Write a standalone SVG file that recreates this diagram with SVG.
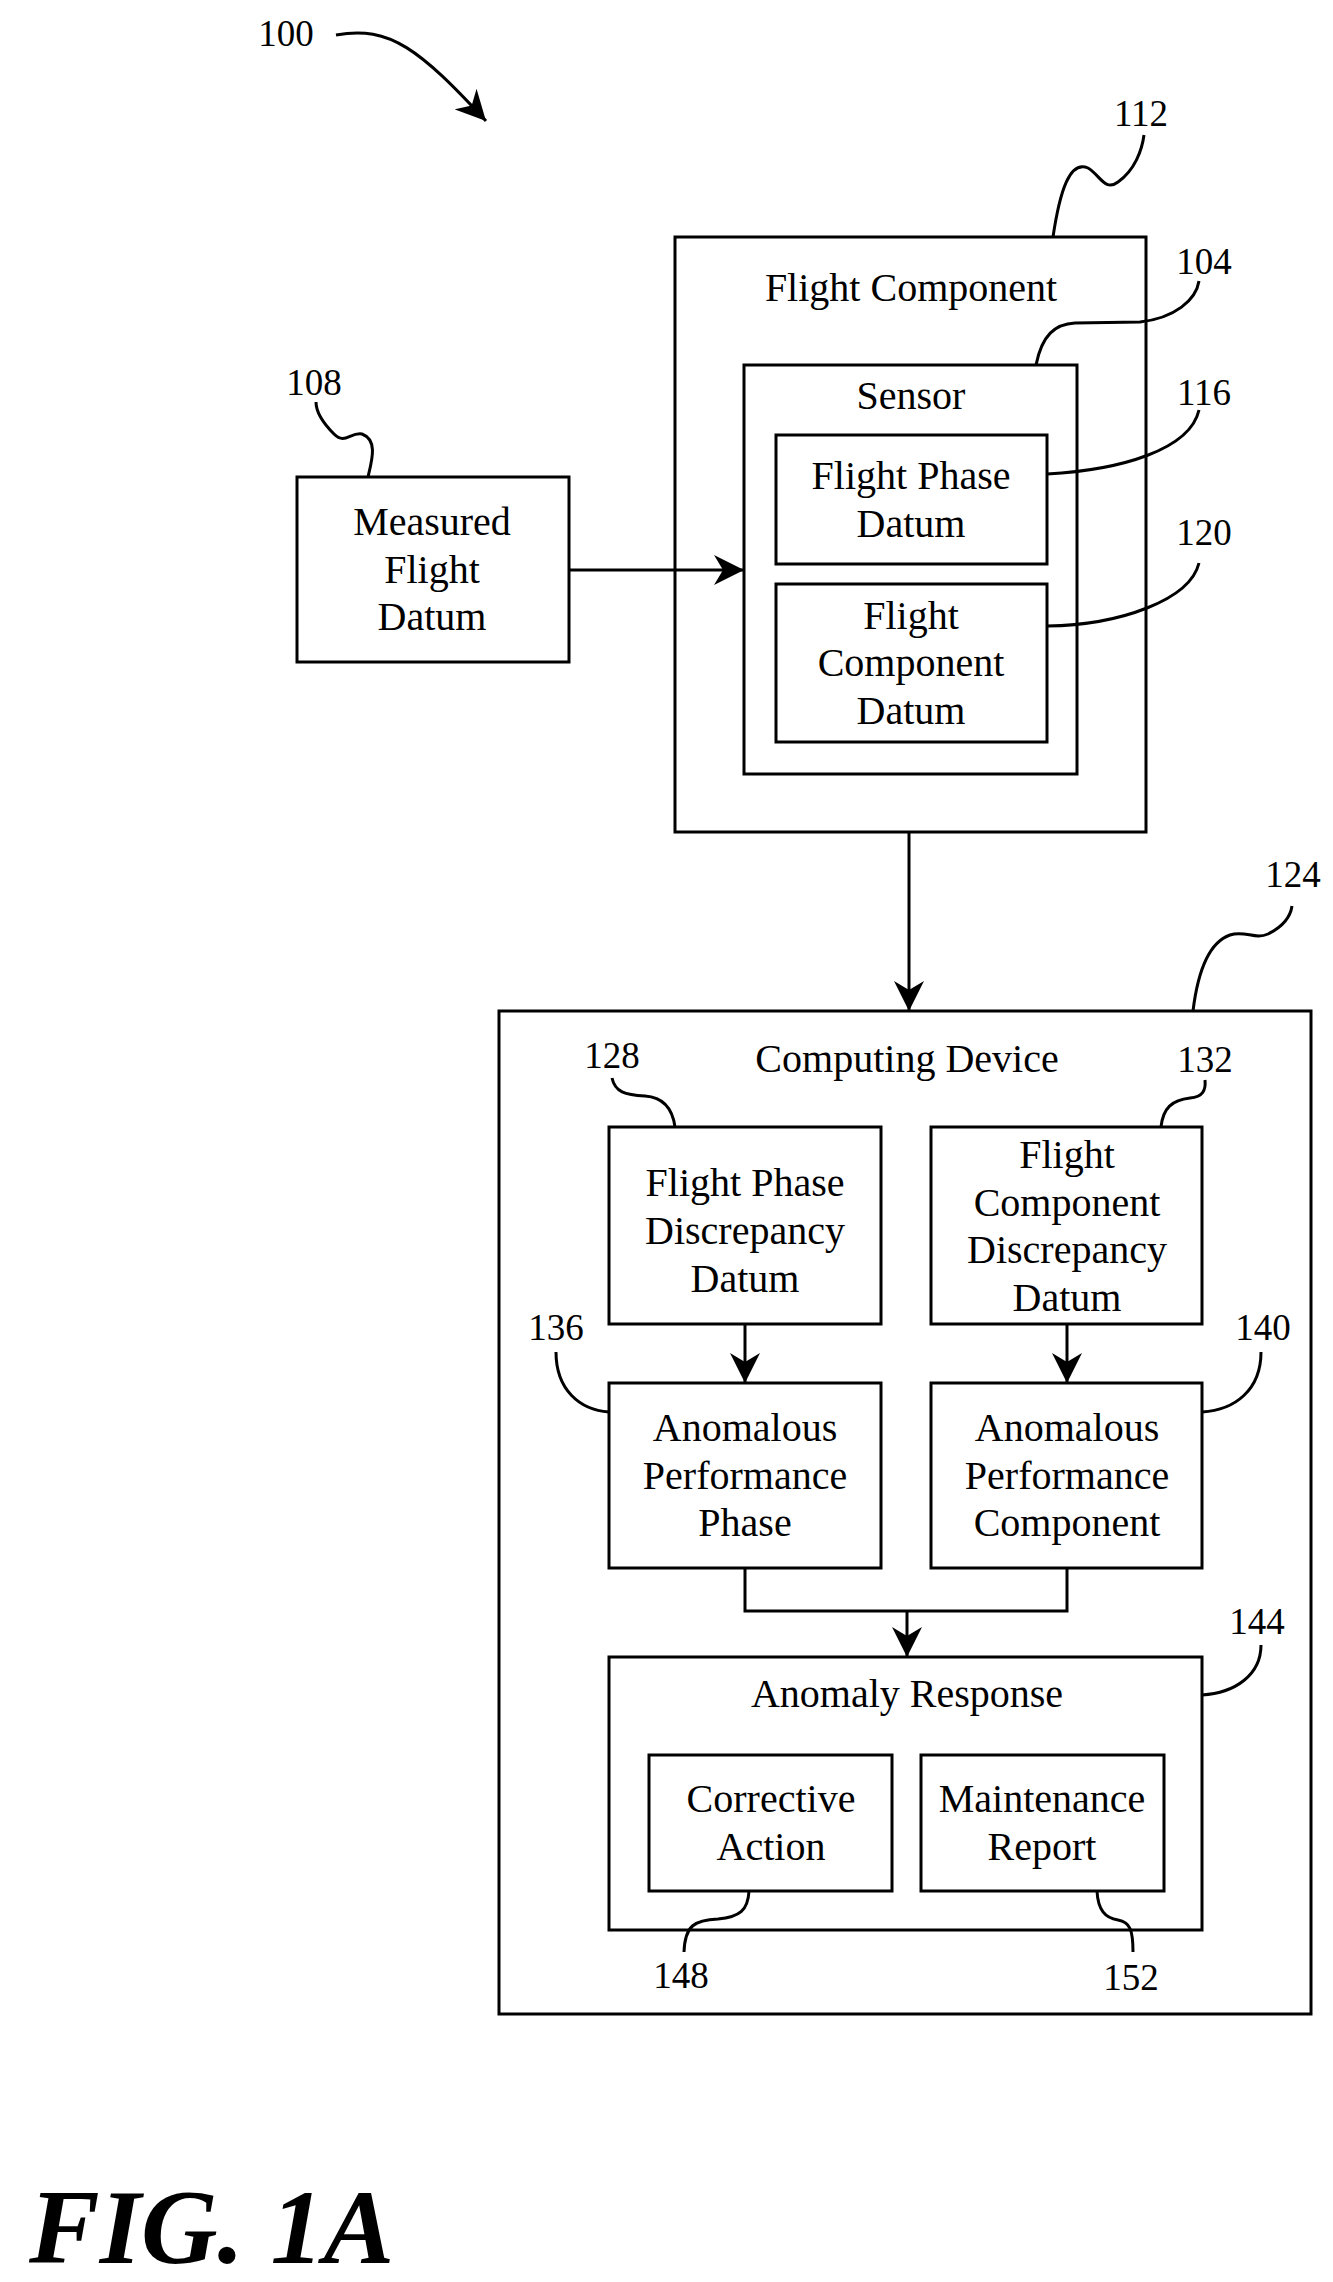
<svg xmlns="http://www.w3.org/2000/svg" width="1333" height="2282" viewBox="0 0 1333 2282">
<style>
text{font-family:"Liberation Serif","Times New Roman",serif;fill:#000;text-anchor:middle}
.t{font-size:40px}
.l{font-size:37px}
.b{fill:#fff;stroke:#000;stroke-width:3}
.c{fill:none;stroke:#000;stroke-width:3}
</style>
<defs><marker id="ah" markerWidth="10" markerHeight="10" refX="9" refY="5" orient="auto" markerUnits="userSpaceOnUse" viewBox="0 0 10 10"><path d="M0,0 L10,5 L0,10 z" fill="#000"/></marker>
<marker id="a" viewBox="0 0 10 10" refX="10" refY="5" markerWidth="30" markerHeight="30" markerUnits="userSpaceOnUse" orient="auto"><path d="M0,0 L10,5 L0,10 L3,5 z" fill="#000"/></marker></defs>
<g id="fig100"><text class="l" x="286" y="46">100</text></g>
<g id="n112"><rect class="b" x="675" y="237" width="471" height="595"/><text class="t" x="911" y="301">Flight Component</text></g>
<g id="n104"><rect class="b" x="744" y="365" width="333" height="409"/><text class="t" x="911" y="409">Sensor</text></g>
<g id="n116"><rect class="b" x="776" y="435" width="271" height="129"/><text class="t" x="911" y="489">Flight Phase</text><text class="t" x="911" y="537">Datum</text></g>
<g id="n120"><rect class="b" x="776" y="584" width="271" height="158"/><text class="t" x="911" y="629">Flight</text><text class="t" x="911" y="676">Component</text><text class="t" x="911" y="724">Datum</text></g>
<g id="n108"><rect class="b" x="297" y="477" width="272" height="185"/><text class="t" x="432" y="535">Measured</text><text class="t" x="432" y="583">Flight</text><text class="t" x="432" y="630">Datum</text></g>
<g id="n124"><rect class="b" x="499" y="1011" width="812" height="1003"/><text class="t" x="907" y="1072">Computing Device</text></g>
<g id="n128"><rect class="b" x="609" y="1127" width="272" height="197"/><text class="t" x="745" y="1196">Flight Phase</text><text class="t" x="745" y="1244">Discrepancy</text><text class="t" x="745" y="1292">Datum</text></g>
<g id="n132"><rect class="b" x="931" y="1127" width="271" height="197"/><text class="t" x="1067" y="1168">Flight</text><text class="t" x="1067" y="1216">Component</text><text class="t" x="1067" y="1263">Discrepancy</text><text class="t" x="1067" y="1311">Datum</text></g>
<g id="n136"><rect class="b" x="609" y="1383" width="272" height="185"/><text class="t" x="745" y="1441">Anomalous</text><text class="t" x="745" y="1489">Performance</text><text class="t" x="745" y="1536">Phase</text></g>
<g id="n140"><rect class="b" x="931" y="1383" width="271" height="185"/><text class="t" x="1067" y="1441">Anomalous</text><text class="t" x="1067" y="1489">Performance</text><text class="t" x="1067" y="1536">Component</text></g>
<g id="n144"><rect class="b" x="609" y="1657" width="593" height="273"/><text class="t" x="907" y="1707">Anomaly Response</text></g>
<g id="n148"><rect class="b" x="649" y="1755" width="243" height="136"/><text class="t" x="771" y="1812">Corrective</text><text class="t" x="771" y="1860">Action</text></g>
<g id="n152"><rect class="b" x="921" y="1755" width="243" height="136"/><text class="t" x="1042" y="1812">Maintenance</text><text class="t" x="1042" y="1860">Report</text></g>
<g id="labels">
<text class="l" x="1141" y="126">112</text><text class="l" x="1204" y="274">104</text><text class="l" x="1204" y="405">116</text><text class="l" x="1204" y="545">120</text><text class="l" x="314" y="395">108</text><text class="l" x="1293" y="887">124</text><text class="l" x="612" y="1068">128</text><text class="l" x="1205" y="1072">132</text><text class="l" x="556" y="1340">136</text><text class="l" x="1263" y="1340">140</text><text class="l" x="1257" y="1634">144</text><text class="l" x="681" y="1988">148</text><text class="l" x="1131" y="1990">152</text>
</g>
<g id="connectors">
<path class="c" d="M336,35 C390,25 420,50 486,121" marker-end="url(#a)"/>
<path class="c" d="M569,570 L744,570" marker-end="url(#a)"/>
<path class="c" d="M909,832 L909,1011" marker-end="url(#a)"/>
<path class="c" d="M745,1324 L745,1383" marker-end="url(#a)"/>
<path class="c" d="M1067,1324 L1067,1383" marker-end="url(#a)"/>
<path class="c" d="M745,1568 L745,1611 L1067,1611 L1067,1568"/>
<path class="c" d="M907,1611 L907,1657" marker-end="url(#a)"/>
<path class="c" d="M1053,237 C1060,190 1070,160 1088,168 C1100,175 1105,192 1118,182 C1135,170 1142,150 1144,135"/>
<path class="c" d="M1036,365 C1042,335 1055,324 1075,323 L1140,322 C1175,318 1196,300 1199,281"/>
<path class="c" d="M1047,474 C1120,470 1190,450 1199,410"/>
<path class="c" d="M1047,626 C1120,625 1190,600 1199,563"/>
<path class="c" d="M368,477 C372,460 378,440 362,434 C350,432 345,445 334,434 C320,420 316,410 316,402"/>
<path class="c" d="M1193,1011 C1198,970 1210,942 1230,935 C1245,930 1255,940 1268,934 C1280,928 1290,920 1292,906"/>
<path class="c" d="M675,1127 C672,1105 660,1097 645,1096 C625,1095 615,1092 612,1078"/>
<path class="c" d="M1161,1127 C1163,1108 1172,1100 1190,1098 C1203,1097 1206,1090 1205,1080"/>
<path class="c" d="M609,1412 C580,1410 556,1390 556,1352"/>
<path class="c" d="M1202,1412 C1235,1410 1261,1390 1261,1352"/>
<path class="c" d="M1202,1695 C1235,1693 1261,1675 1261,1645"/>
<path class="c" d="M749,1891 C748,1910 740,1917 718,1919 C695,1920 685,1925 684,1952"/>
<path class="c" d="M1097,1891 C1098,1910 1105,1918 1118,1920 C1130,1922 1133,1930 1133,1952"/>
</g>
<text x="29" y="2263" style="font-size:106px;font-weight:bold;font-style:italic;text-anchor:start">FIG. 1A</text>
</svg>
